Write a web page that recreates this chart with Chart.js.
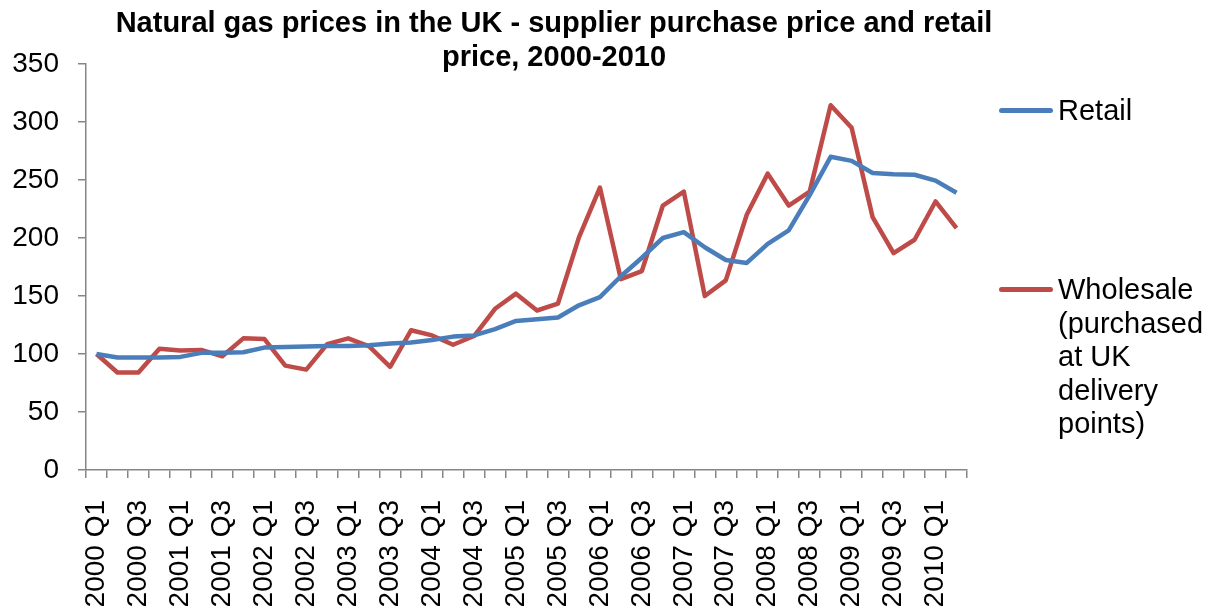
<!DOCTYPE html>
<html>
<head>
<meta charset="utf-8">
<script src="https://cdn.jsdelivr.net/npm/chart.js@4"></script>
<style>
  html, body { margin: 0; padding: 0; background: #fff; }
  #wrap { position: relative; width: 1213px; height: 612px; }
  #legend { position: absolute; left: 999px; top: 0; width: 214px;
    font-family: "Liberation Sans", Arial, sans-serif; font-size: 29px; color: #000; }
  .item { position: absolute; left: 0; display: flex; align-items: flex-start; }
  .swatch { width: 54px; height: 5px; border-radius: 3px; margin-top: 14px; margin-right: 5px; flex: none; }
  .label { line-height: 33.5px; width: 154px; }
</style>
</head>
<body>
<div id="wrap">
  <canvas id="chart" width="1213" height="612"></canvas>
  <div id="legend"></div>
</div>
<script>
// Quarters 2000 Q1 .. 2010 Q2
const years = ["2000", "2001", "2002", "2003", "2004", "2005", "2006", "2007", "2008", "2009", "2010"]
const quarters = ["Q1", "Q2", "Q3", "Q4"]
const categories = []
years.forEach(y => quarters.forEach(q => categories.push(y + " " + q)))
categories.length = 42

const retail = [
  100, 97, 97, 97, 97.5, 101, 101, 101.5, 105.5, 106, 106.5, 107, 107, 107.5,
  109, 110, 112, 115, 116, 121.5, 128.5, 130, 131.5, 142, 149, 167, 183, 200,
  205, 192, 181, 178.5, 195, 206.5, 237, 270, 266.5, 256, 255, 254.5, 249.5, 239
]
const wholesale = [
  100, 84, 84, 104.5, 103, 103.5, 98, 113.5, 113, 90, 86.5, 108.5, 113.5, 106.5,
  89, 120.5, 116, 108, 115.5, 139, 152, 137.5, 143.5, 200.5, 243.5, 164.5, 171.5, 228,
  240, 150, 163.5, 220, 255.5, 228, 240, 314.5, 295, 218, 187, 198.5, 231.5, 208.5
]
const legendLabels = ["Retail", "Wholesale (purchased at UK delivery points)"]
const titleLines = ["Natural gas prices in the UK - supplier purchase price and retail", "price, 2000-2010"]

const colors = { retail: "#4A7EBB", wholesale: "#BE4B48", axis: "#868686" }
const font = "'Liberation Sans', Arial, sans-serif"

// Title drawn by hand so it can sit where Excel put it
const titlePlugin = {
  id: "excelTitle",
  afterDraw(chart) {
    const ctx = chart.ctx
    ctx.save()
    ctx.fillStyle = "#000"
    ctx.font = "bold 29px " + font
    ctx.textAlign = "center"
    ctx.textBaseline = "alphabetic"
    titleLines.forEach((line, i) => ctx.fillText(line, 554, 32 + i * 34))
    ctx.restore()
  }
}

const chart = new Chart(document.getElementById("chart"), {
  type: "line",
  data: {
    labels: categories,
    datasets: [
      { label: legendLabels[0], data: retail, borderColor: colors.retail, borderWidth: 4.5 },
      { label: legendLabels[1], data: wholesale, borderColor: colors.wholesale, borderWidth: 4.5 }
    ]
  },
  options: {
    responsive: false,
    animation: false,
    elements: { point: { radius: 0 }, line: { tension: 0, borderJoinStyle: "round" } },
    layout: { padding: { left: 12, right: 246, top: 64, bottom: 0 } },
    plugins: { legend: { display: false }, title: { display: false }, tooltip: { enabled: false } },
    scales: {
      x: {
        offset: true,
        afterFit: s => { s.height = 142 },
        grid: { offset: true, drawOnChartArea: false, color: colors.axis, tickLength: 8, lineWidth: 1.5 },
        border: { color: colors.axis, width: 1.5 },
        ticks: {
          autoSkip: false, maxRotation: 90, minRotation: 90, color: "#000",
          font: { family: font, size: 28 }, padding: 22,
          callback: (v, i) => i % 2 === 0 ? categories[i] : ""
        }
      },
      y: {
        min: 0, max: 350,
        afterFit: s => { s.width = 74 },
        grid: { drawOnChartArea: false, color: colors.axis, tickLength: 8, lineWidth: 1.5 },
        border: { color: colors.axis, width: 1.5 },
        ticks: { stepSize: 50, color: "#000", font: { family: font, size: 28 }, padding: 19 }
      }
    }
  },
  plugins: [titlePlugin]
})

// HTML legend built from the datasets
const legendTops = [94, 273]
const legendEl = document.getElementById("legend")
chart.data.datasets.forEach((ds, i) => {
  const item = document.createElement("div")
  item.className = "item"
  item.style.top = legendTops[i] + "px"
  const sw = document.createElement("div")
  sw.className = "swatch"
  sw.style.background = ds.borderColor
  const lb = document.createElement("div")
  lb.className = "label"
  lb.textContent = ds.label
  item.appendChild(sw)
  item.appendChild(lb)
  legendEl.appendChild(item)
})
</script>
</body>
</html>
